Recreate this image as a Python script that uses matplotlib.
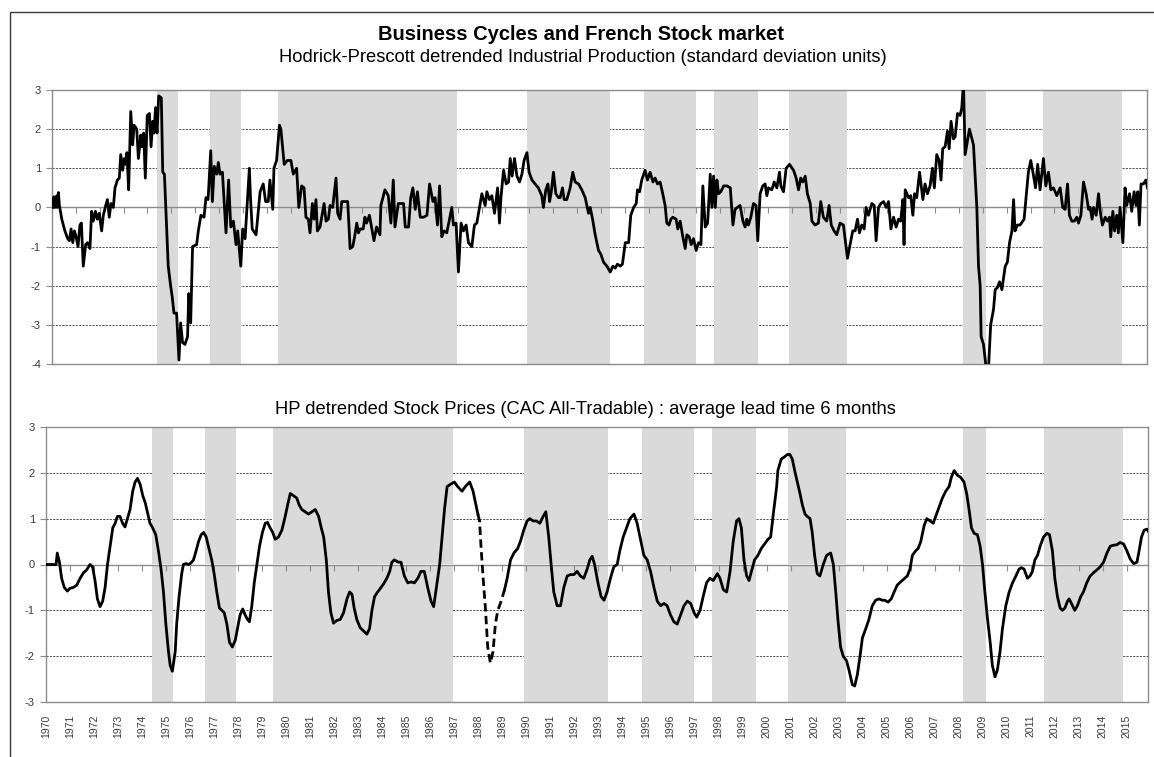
import numpy as np
import matplotlib
matplotlib.use("Agg")
import matplotlib.pyplot as plt

plt.rcParams['font.family'] = ['Liberation Sans', 'DejaVu Sans']
plt.rcParams['axes.unicode_minus'] = False

# ---------------- data ----------------
TITLE = "Business Cycles and French Stock market"
SUB_TOP = "Hodrick-Prescott detrended Industrial Production (standard deviation units)"
SUB_BOTTOM = "HP detrended Stock Prices (CAC All-Tradable) : average lead time 6 months"

YEARS = list(range(1970, 2016))

# shaded periods (decimal years)
SHADE_START = [1974.42, 1976.60, 1979.45, 1989.90, 1994.80, 1997.73, 2000.88, 2008.18, 2011.53]
SHADE_END   = [1975.28, 1977.90, 1986.95, 1993.38, 1996.97, 1999.58, 2003.30, 2009.15, 2014.84]

# Industrial production (HP detrended, sd units)
IP_T = [1970.03, 1970.08, 1970.13, 1970.20, 1970.22, 1970.27, 1970.31, 1970.41, 1970.54, 1970.66,
        1970.73, 1970.80, 1970.87, 1970.94, 1971.01, 1971.09, 1971.17, 1971.23, 1971.31, 1971.41,
        1971.49, 1971.59, 1971.66, 1971.73, 1971.82, 1971.90, 1971.98, 1972.08, 1972.15, 1972.23,
        1972.32, 1972.40, 1972.47, 1972.57, 1972.64, 1972.74, 1972.82, 1972.88, 1972.96, 1973.03,
        1973.09, 1973.14, 1973.21, 1973.30, 1973.38, 1973.44, 1973.55, 1973.62, 1973.72, 1973.77,
        1973.84, 1973.91, 1973.99, 1974.08, 1974.15, 1974.22, 1974.27, 1974.34, 1974.40, 1974.47,
        1974.58, 1974.64, 1974.71, 1974.87, 1974.97, 1975.04, 1975.11, 1975.22, 1975.32, 1975.39,
        1975.47, 1975.57, 1975.68, 1975.73, 1975.81, 1975.89, 1976.06, 1976.13, 1976.24, 1976.37,
        1976.45, 1976.54, 1976.65, 1976.72, 1976.80, 1976.90, 1976.97, 1977.04, 1977.14, 1977.29,
        1977.40, 1977.49, 1977.60, 1977.71, 1977.78, 1977.91, 1977.99, 1978.09, 1978.27, 1978.32,
        1978.39, 1978.55, 1978.72, 1978.85, 1978.95, 1979.06, 1979.13, 1979.25, 1979.30, 1979.41,
        1979.53, 1979.59, 1979.73, 1979.86, 1980.01, 1980.11, 1980.25, 1980.34, 1980.46, 1980.56,
        1980.64, 1980.74, 1980.81, 1980.91, 1980.98, 1981.06, 1981.12, 1981.23, 1981.40, 1981.48,
        1981.58, 1981.65, 1981.76, 1981.90, 1981.97, 1982.07, 1982.14, 1982.39, 1982.49, 1982.60,
        1982.68, 1982.77, 1982.84, 1982.91, 1983.04, 1983.11, 1983.18, 1983.30, 1983.49, 1983.60,
        1983.74, 1983.78, 1983.95, 1984.09, 1984.20, 1984.30, 1984.37, 1984.51,
        1984.62, 1984.73, 1984.80, 1984.94, 1985.03, 1985.12, 1985.22, 1985.31, 1985.43, 1985.57,
        1985.71, 1985.82, 1985.96, 1986.05, 1986.15, 1986.24, 1986.33, 1986.43, 1986.54, 1986.64,
        1986.75, 1986.82, 1986.93, 1987.03, 1987.14, 1987.24, 1987.35, 1987.45, 1987.59, 1987.70,
        1987.80, 1987.91, 1988.01, 1988.15, 1988.22, 1988.33, 1988.43, 1988.54, 1988.67, 1988.75,
        1988.81, 1988.92, 1989.03, 1989.13, 1989.20, 1989.28, 1989.38, 1989.48, 1989.59, 1989.69,
        1989.78, 1989.90, 1989.99, 1990.11, 1990.24, 1990.38, 1990.52, 1990.59, 1990.69, 1990.78,
        1990.85, 1990.92, 1991.01, 1991.11, 1991.22, 1991.29, 1991.39, 1991.46, 1991.57, 1991.71,
        1991.82, 1991.92, 1992.06, 1992.20, 1992.34, 1992.48, 1992.55, 1992.65, 1992.76, 1992.90,
        1993.00, 1993.11, 1993.25, 1993.39, 1993.50, 1993.60, 1993.69, 1993.81, 1993.90, 1994.02,
        1994.16, 1994.25, 1994.37, 1994.48, 1994.53, 1994.62, 1994.71, 1994.85, 1994.95, 1995.06,
        1995.18, 1995.27, 1995.37, 1995.48, 1995.59, 1995.69, 1995.76, 1995.85, 1995.93, 1996.01,
        1996.15, 1996.22, 1996.32, 1996.43, 1996.53, 1996.60, 1996.70, 1996.78, 1996.88, 1996.99,
        1997.09, 1997.19, 1997.27, 1997.37, 1997.47, 1997.58, 1997.65, 1997.72, 1997.79, 1997.86,
        1997.93, 1998.02, 1998.14, 1998.28, 1998.42, 1998.53, 1998.62, 1998.72, 1998.83, 1998.95,
        1999.04, 1999.11, 1999.18, 1999.28, 1999.39, 1999.50, 1999.57, 1999.67, 1999.78, 1999.88,
        1999.95, 2000.02, 2000.16, 2000.26, 2000.37, 2000.48,
        2000.54, 2000.65, 2000.76, 2000.90, 2001.07, 2001.18, 2001.28, 2001.37, 2001.46, 2001.56,
        2001.65, 2001.77, 2001.84, 2001.97, 2002.11, 2002.21, 2002.32, 2002.46, 2002.56, 2002.65,
        2002.77, 2002.88, 2003.02, 2003.16, 2003.33, 2003.44, 2003.55, 2003.65, 2003.75, 2003.83,
        2003.93, 2004.03, 2004.11, 2004.21, 2004.35, 2004.45, 2004.53, 2004.63, 2004.73, 2004.84,
        2004.95, 2005.05, 2005.15, 2005.26, 2005.37, 2005.47, 2005.56, 2005.65, 2005.70, 2005.75,
        2005.89, 2005.98, 2006.07, 2006.14, 2006.23, 2006.35, 2006.49, 2006.58, 2006.68, 2006.79,
        2006.89, 2006.97, 2007.07, 2007.17, 2007.25, 2007.32, 2007.42, 2007.52, 2007.59, 2007.67,
        2007.77, 2007.84, 2007.94, 2008.05, 2008.12, 2008.19, 2008.26, 2008.44, 2008.61, 2008.75,
        2008.82, 2008.89, 2008.93, 2009.03, 2009.14, 2009.24, 2009.33, 2009.45, 2009.52, 2009.61,
        2009.70, 2009.80, 2009.94, 2010.03, 2010.12, 2010.22, 2010.29, 2010.35, 2010.45, 2010.56,
        2010.73, 2010.82, 2010.91, 2011.01, 2011.10, 2011.21, 2011.30, 2011.40, 2011.54, 2011.64,
        2011.75, 2011.85, 2011.96, 2012.10, 2012.24, 2012.35, 2012.45, 2012.55, 2012.63, 2012.73,
        2012.83, 2012.94, 2013.01, 2013.11, 2013.22, 2013.33, 2013.43, 2013.50, 2013.58, 2013.64,
        2013.75, 2013.85, 2013.92, 2014.01, 2014.13, 2014.22, 2014.31, 2014.36, 2014.45, 2014.52,
        2014.61, 2014.68, 2014.75, 2014.87, 2014.96, 2015.03, 2015.15, 2015.24, 2015.34, 2015.42,
        2015.49, 2015.56, 2015.63, 2015.73, 2015.83, 2015.90]
IP_V = [0.0, 0.27, 0.0, 0.3, 0.0, 0.38, 0.05, -0.3, -0.6, -0.8,
        -0.85, -0.55, -0.9, -0.6, -0.75, -1.0, -0.45, -0.4, -1.5, -0.95,
        -0.9, -1.05, -0.1, -0.35, -0.1, -0.3, -0.15, -0.6, -0.2, 0.0,
        0.2, -0.25, 0.1, 0.0, 0.5, 0.7, 0.75, 1.35, 0.95, 1.25,
        1.1, 1.4, 0.45, 2.45, 1.6, 2.1, 2.0, 1.25, 1.85, 1.55,
        1.9, 0.75, 2.35, 2.4, 1.55, 2.2, 1.9, 2.55, 1.9, 2.85,
        2.8, 0.9, 0.85, -1.5, -2.0, -2.3, -2.7, -2.7, -3.9, -2.95,
        -3.45, -3.5, -3.3, -2.2, -2.95, -1.0, -0.95, -0.6, -0.2, -0.25,
        0.25, 0.2, 1.45, 0.15, 1.05, 0.85, 1.15, 0.85, 0.9, -0.65,
        0.7, -0.5, -0.35, -0.95, -0.6, -1.5, -0.55, -0.8, 1.0, 0.2,
        -0.55, -0.7, 0.4, 0.6, 0.15, 0.15, 0.7, -0.05, 1.0, 1.2,
        2.1, 2.0, 1.1, 1.2, 1.2, 0.85, 1.0, 0.0, 0.55, 0.5,
        -0.25, -0.3, -0.65, 0.1, -0.3, 0.2, -0.6, -0.5, 0.1, -0.35,
        -0.3, 0.05, 0.0, 0.75, -0.15, -0.3, 0.15, 0.15, -1.05, -1.0,
        -0.75, -0.4, -0.65, -0.55, -0.55, -0.25, -0.4, -0.2, -0.85, -0.5,
        -0.7, 0.05, 0.45, 0.3, -0.4, 0.7, -0.5, 0.1,
        0.1, 0.1, -0.5, -0.5, 0.25, 0.5, -0.05, 0.4, -0.25, -0.25,
        -0.2, 0.6, 0.15, 0.25, -0.45, 0.55, -0.75, -0.6, -0.65, -0.35,
        0.0, -0.45, -0.4, -1.65, -0.4, -0.6, -0.45, -0.9, -1.0, -0.45,
        -0.4, 0.0, 0.35, 0.05, 0.4, 0.2, 0.3, -0.15, 0.5, -0.4,
        0.25, 0.95, 0.6, 0.65, 1.25, 0.8, 1.25, 0.8, 0.65, 0.85,
        1.2, 1.4, 0.9, 0.7, 0.6, 0.5, 0.3, 0.0, 0.45, 0.6,
        0.15, 0.4, 0.9, 0.35, 0.25, 0.25, 0.5, 0.2, 0.2, 0.5,
        0.9, 0.65, 0.6, 0.45, 0.25, -0.15, 0.0, -0.3, -0.7, -1.1,
        -1.2, -1.4, -1.5, -1.65, -1.5, -1.55, -1.45, -1.5, -1.45, -0.9,
        -0.9, -0.2, 0.0, 0.1, 0.45, 0.4, 0.7, 0.95, 0.7, 0.9,
        0.65, 0.75, 0.6, 0.65, 0.35, 0.05, -0.4, -0.45, -0.3, -0.25,
        -0.3, -0.55, -0.35, -0.75, -1.05, -0.7, -0.75, -0.95, -0.8, -1.1,
        -0.9, -0.95, 0.55, -0.5, -0.4, 0.85, 0.0, 0.8, 0.0, 0.7,
        0.35, 0.4, 0.55, 0.55, 0.5, -0.45, -0.05, 0.0, 0.05, -0.35,
        -0.5, -0.3, -0.45, -0.25, 0.1, 0.05, -0.85, 0.35, 0.55, 0.6,
        0.3, 0.5, 0.45, 0.65, 0.5, 0.9,
        0.55, 0.4, 1.0, 1.1, 0.95, 0.75, 0.45, 0.75, 0.65, 0.8,
        0.35, 0.1, -0.35, -0.45, -0.4, 0.15, -0.25, -0.35, 0.05, -0.45,
        -0.6, -0.7, -0.4, -0.45, -1.3, -0.95, -0.6, -0.6, -0.3, -0.65,
        -0.45, -0.55, 0.0, -0.2, 0.1, 0.05, -0.85, 0.0, 0.1, 0.15,
        0.0, 0.15, -0.55, -0.25, -0.5, -0.3, -0.35, 0.2, -0.95, 0.45,
        0.25, 0.3, -0.2, 0.35, 0.25, 0.9, 0.2, 0.6, 0.35, 0.55,
        1.0, 0.5, 1.35, 1.2, 0.7, 1.5, 1.55, 1.95, 1.5, 2.2,
        1.75, 1.8, 2.4, 2.35, 2.55, 3.2, 1.35, 2.0, 1.6, 0.0,
        -1.5, -2.0, -3.3, -3.5, -4.1, -4.1, -3.0, -2.6, -2.1, -2.05,
        -1.9, -2.1, -1.5, -1.4, -0.9, -0.6, 0.2, -0.6, -0.45, -0.45,
        -0.3, 0.3, 0.9, 1.2, 0.9, 0.5, 1.1, 0.45, 1.25, 0.55,
        0.9, 0.45, 0.5, 0.3, 0.5, 0.0, -0.05, 0.6, -0.2, -0.35,
        -0.35, -0.25, -0.4, -0.2, 0.65, 0.35, -0.05, 0.0, -0.3, 0.0,
        -0.2, 0.35, -0.1, -0.45, -0.25, -0.35, -0.25, -0.75, -0.1, -0.6,
        -0.2, -0.65, 0.0, -0.9, 0.5, 0.05, 0.35, -0.1, 0.4, 0.05,
        0.4, -0.45, 0.6, 0.6, 0.7, 0.5]

# Stock prices (HP detrended, shifted 6 months)
SP_T = [1970.03, 1970.42, 1970.47, 1970.56, 1970.65, 1970.76, 1970.89, 1971.00, 1971.14, 1971.28,
        1971.42, 1971.56, 1971.69, 1971.83, 1971.94, 1972.04, 1972.14, 1972.25, 1972.36, 1972.46,
        1972.56, 1972.67, 1972.78, 1972.88, 1972.97, 1973.08, 1973.19, 1973.29, 1973.39, 1973.50,
        1973.61, 1973.71, 1973.81, 1973.92, 1974.03, 1974.13, 1974.22, 1974.33, 1974.44, 1974.57,
        1974.68, 1974.79, 1974.89, 1974.99, 1975.10, 1975.17, 1975.26, 1975.38, 1975.44, 1975.54,
        1975.65, 1975.72, 1975.83, 1975.93, 1976.03, 1976.14, 1976.25, 1976.35, 1976.46, 1976.56,
        1976.67, 1976.76, 1976.90, 1977.00, 1977.11, 1977.22, 1977.32, 1977.42, 1977.53, 1977.64,
        1977.76, 1977.88, 1977.97, 1978.08, 1978.19, 1978.29, 1978.39, 1978.47, 1978.57, 1978.67,
        1978.78, 1978.89, 1979.01, 1979.13, 1979.22, 1979.33, 1979.44, 1979.54, 1979.68, 1979.82,
        1979.96, 1980.06, 1980.17, 1980.31, 1980.44, 1980.54, 1980.65, 1980.79, 1980.93, 1981.07,
        1981.21, 1981.35, 1981.46, 1981.56, 1981.67, 1981.76, 1981.86, 1981.97, 1982.11, 1982.25,
        1982.39, 1982.53, 1982.64, 1982.74, 1982.83, 1982.94, 1983.08, 1983.22, 1983.36, 1983.47,
        1983.57, 1983.68, 1983.78, 1983.92, 1984.06, 1984.19, 1984.31, 1984.40, 1984.50, 1984.68,
        1984.78, 1984.92, 1985.06, 1985.20, 1985.34, 1985.48, 1985.61, 1985.75, 1985.89, 1986.03,
        1986.14, 1986.28, 1986.39, 1986.49, 1986.59, 1986.70, 1986.84, 1987.00, 1987.14, 1987.32,
        1987.46, 1987.64, 1987.78, 1987.88, 1987.98, 1988.05, 1988.11, 1988.20, 1988.30, 1988.39,
        1988.50, 1988.61, 1988.71, 1988.81, 1988.95, 1989.09, 1989.20, 1989.34, 1989.48, 1989.64,
        1989.75, 1989.89, 1990.03, 1990.14, 1990.28, 1990.42, 1990.56, 1990.70, 1990.81, 1990.93,
        1991.03, 1991.14, 1991.28, 1991.42, 1991.56, 1991.70, 1991.84, 1991.98, 1992.11, 1992.25,
        1992.39, 1992.53, 1992.64, 1992.74, 1992.84, 1992.98, 1993.11, 1993.23, 1993.36, 1993.50,
        1993.64, 1993.78, 1993.89, 1994.03, 1994.17, 1994.31, 1994.48, 1994.61, 1994.75, 1994.89,
        1995.03, 1995.17, 1995.31, 1995.45, 1995.59, 1995.73, 1995.86, 1996.00, 1996.14, 1996.28,
        1996.42, 1996.56, 1996.70, 1996.84, 1996.98, 1997.09, 1997.23, 1997.36, 1997.50, 1997.64,
        1997.78, 1997.95, 1998.06, 1998.20, 1998.34, 1998.48, 1998.61, 1998.75, 1998.85, 1998.95,
        1999.06, 1999.17, 1999.27, 1999.37, 1999.50, 1999.64, 1999.78, 1999.92, 2000.06, 2000.17,
        2000.28, 2000.42, 2000.47,
        2000.61, 2000.75, 2000.86, 2000.97, 2001.07, 2001.17, 2001.28, 2001.39, 2001.49, 2001.60,
        2001.69, 2001.81, 2001.90, 2002.00, 2002.11, 2002.22, 2002.36, 2002.50, 2002.67, 2002.78,
        2002.88, 2002.97, 2003.08, 2003.19, 2003.33, 2003.43, 2003.57, 2003.67, 2003.78, 2003.89,
        2003.99, 2004.13, 2004.26, 2004.40, 2004.54, 2004.68, 2004.82, 2004.92, 2005.06, 2005.19,
        2005.31, 2005.44, 2005.58, 2005.75, 2005.86, 2005.97, 2006.07, 2006.21, 2006.31, 2006.42,
        2006.56, 2006.67, 2006.81, 2006.94, 2007.04, 2007.18, 2007.32, 2007.46, 2007.60, 2007.69,
        2007.81, 2007.94, 2008.08, 2008.22, 2008.33, 2008.43, 2008.53, 2008.64, 2008.78, 2008.89,
        2008.99, 2009.08, 2009.19, 2009.31, 2009.40, 2009.51, 2009.61, 2009.72, 2009.82, 2009.96,
        2010.10, 2010.24, 2010.38, 2010.51, 2010.61, 2010.72, 2010.86, 2010.97, 2011.07, 2011.17,
        2011.28, 2011.39, 2011.53, 2011.67, 2011.78, 2011.90, 2012.00, 2012.11, 2012.22, 2012.32,
        2012.42, 2012.53, 2012.60, 2012.69, 2012.83, 2012.94, 2013.08, 2013.19, 2013.33, 2013.47,
        2013.61, 2013.75, 2013.89, 2014.03, 2014.17, 2014.31, 2014.44, 2014.58, 2014.72, 2014.86,
        2015.00, 2015.14, 2015.28, 2015.42, 2015.51, 2015.61, 2015.72, 2015.83, 2015.90]
SP_V = [0.0, 0.0, 0.25, 0.05, -0.3, -0.5, -0.58, -0.52, -0.5, -0.45,
        -0.3, -0.18, -0.12, 0.0, -0.05, -0.35, -0.75, -0.92, -0.8, -0.5,
        0.0, 0.4, 0.8, 0.9, 1.05, 1.05, 0.9, 0.82, 1.0, 1.2,
        1.6, 1.8, 1.88, 1.75, 1.5, 1.35, 1.15, 0.9, 0.8, 0.65,
        0.3, -0.1, -0.6, -1.3, -1.9, -2.2, -2.33, -1.9, -1.3, -0.7,
        -0.2, 0.0, 0.02, 0.0, 0.03, 0.1, 0.3, 0.5, 0.65, 0.7,
        0.6, 0.4, 0.1, -0.2, -0.6, -0.95, -1.0, -1.05, -1.3, -1.7,
        -1.8, -1.65, -1.4, -1.1, -0.97, -1.1, -1.2, -1.25, -0.9, -0.4,
        0.0, 0.4, 0.7, 0.9, 0.92, 0.8, 0.7, 0.55, 0.6, 0.75,
        1.05, 1.3, 1.55, 1.5, 1.45, 1.3, 1.2, 1.15, 1.1, 1.15,
        1.2, 1.05, 0.8, 0.6, 0.1, -0.6, -1.05, -1.28, -1.22, -1.2,
        -1.05, -0.75, -0.6, -0.65, -0.95, -1.2, -1.38, -1.45, -1.52, -1.4,
        -1.0, -0.7, -0.62, -0.52, -0.42, -0.3, -0.15, 0.05, 0.1, 0.05,
        0.05, -0.25, -0.4, -0.38, -0.4, -0.3, -0.15, -0.15, -0.5, -0.8,
        -0.92, -0.4, 0.0, 0.6, 1.2, 1.7, 1.75, 1.8, 1.7, 1.6,
        1.7, 1.8, 1.6, 1.35, 1.1, 0.95, 0.4, -0.3, -1.0, -1.8,
        -2.15, -1.9, -1.3, -1.0, -0.8, -0.55, -0.3, 0.1, 0.25, 0.35,
        0.5, 0.75, 0.95, 1.0, 0.95, 0.95, 0.9, 1.05, 1.15, 0.6,
        0.0, -0.6, -0.9, -0.9, -0.5, -0.25, -0.22, -0.22, -0.15, -0.25,
        -0.3, -0.1, 0.1, 0.18, 0.0, -0.4, -0.7, -0.78, -0.6, -0.3,
        -0.05, 0.0, 0.3, 0.6, 0.8, 1.0, 1.1, 0.9, 0.55, 0.2,
        0.1, -0.15, -0.5, -0.8, -0.9, -0.85, -0.9, -1.1, -1.25, -1.3,
        -1.1, -0.9, -0.8, -0.85, -1.05, -1.15, -1.0, -0.7, -0.4, -0.3,
        -0.35, -0.2, -0.3, -0.55, -0.6, -0.15, 0.5, 0.95, 1.0, 0.8,
        0.1, -0.25, -0.35, -0.15, 0.1, 0.2, 0.35, 0.45, 0.55, 0.6,
        1.1, 1.7, 2.05,
        2.3, 2.35, 2.4, 2.4, 2.3, 2.05, 1.8, 1.55, 1.3, 1.1,
        1.05, 1.0, 0.7, 0.2, -0.2, -0.25, 0.0, 0.2, 0.25, 0.0,
        -0.6, -1.2, -1.8, -2.0, -2.1, -2.3, -2.62, -2.65, -2.4, -2.0,
        -1.6, -1.4, -1.2, -0.9, -0.78, -0.75, -0.78, -0.78, -0.82, -0.75,
        -0.6, -0.45, -0.38, -0.3, -0.25, -0.1, 0.2, 0.3, 0.35, 0.5,
        0.85, 1.0, 0.95, 0.9, 1.05, 1.25, 1.45, 1.6, 1.7, 1.9,
        2.05, 1.95, 1.9, 1.8, 1.55, 1.2, 0.8, 0.68, 0.65, 0.4,
        0.0, -0.55, -1.15, -1.7, -2.2, -2.45, -2.3, -1.9, -1.4, -0.9,
        -0.6, -0.4, -0.25, -0.1, -0.07, -0.1, -0.3, -0.25, -0.15, 0.1,
        0.2, 0.4, 0.6, 0.68, 0.65, 0.3, -0.3, -0.7, -0.95, -1.0,
        -0.95, -0.8, -0.75, -0.85, -1.0, -0.9, -0.7, -0.6, -0.4, -0.25,
        -0.18, -0.12, -0.05, 0.05, 0.25, 0.4, 0.42, 0.43, 0.48, 0.45,
        0.3, 0.12, 0.02, 0.05, 0.3, 0.6, 0.75, 0.77, 0.72]

# period where the stock series is drawn dashed
DASH_FROM = 1987.98
DASH_TO = 1989.09

# ---------------- figure ----------------
W, H = 1154, 757
fig = plt.figure(figsize=(W / 100, H / 100), dpi=100)

GRAY = '#8c8c8c'
SHADE = '#dadada'
XMAX = 2015.88

# outer chart frame
fig.patches.append(plt.Rectangle((10 / W, -0.1), 1.5, 1.1 - 12 / H,
                                 transform=fig.transFigure, fill=False,
                                 edgecolor='#3a3a3a', lw=1.0, zorder=0))

fig.text(0.503, 1 - 34 / H, TITLE, ha='center', va='center',
         fontsize=14.5, fontweight='bold')
fig.text(0.505, 1 - 57 / H, SUB_TOP, ha='center', va='center', fontsize=13.2)
fig.text(0.507, 1 - 410 / H, SUB_BOTTOM, ha='center', va='center', fontsize=13.2)


def style_panel(ax, ylo, yhi):
    ax.set_xlim(1970, XMAX)
    ax.set_ylim(ylo, yhi)
    for s in ['top', 'right', 'bottom', 'left']:
        ax.spines[s].set_color(GRAY)
        ax.spines[s].set_linewidth(1.0)
    ax.set_yticks(np.arange(ylo, yhi + 1))
    ax.tick_params(axis='y', direction='out', length=4, width=0.8, color=GRAY,
                   labelsize=8, labelcolor='#3a3a3a', pad=4)
    ax.yaxis.grid(True, color='#333333', linestyle=(0, (2.5, 1.5)), lw=0.6)
    ax.set_axisbelow(True)
    for a, b in zip(SHADE_START, SHADE_END):
        ax.axvspan(a, b, color=SHADE, lw=0, zorder=0.6)
    sec = ax.secondary_xaxis(0, transform=ax.transData)
    sec.set_xticks(YEARS)
    sec.tick_params(axis='x', direction='out', length=4, width=0.8, color=GRAY,
                    labelbottom=False, labeltop=False)
    for s in sec.spines.values():
        s.set_color(GRAY)
        s.set_linewidth(1.0)
    sec.set_zorder(1)
    return sec


# top panel
ax1 = fig.add_axes([52 / W, 1 - 364 / H, (1147 - 52) / W, 274 / H])
style_panel(ax1, -4, 3)
ax1.set_xticks([])
ax1.plot(IP_T, IP_V, color='black', lw=2.0, zorder=3, solid_joinstyle='round')

# bottom panel
ax2 = fig.add_axes([46 / W, 1 - 702 / H, (1148 - 46) / W, 275 / H])
style_panel(ax2, -3, 3)
ax2.set_xticks(YEARS)
ax2.set_xticklabels([str(y) for y in YEARS], rotation=90, fontsize=7.5,
                    color='#3a3a3a')
ax2.tick_params(axis='x', length=0, pad=9)

spt = np.array(SP_T)
spv = np.array(SP_V)
i0 = int(np.argmin(np.abs(spt - DASH_FROM)))
i1 = int(np.argmin(np.abs(spt - DASH_TO)))
ax2.plot(spt[:i0 + 1], spv[:i0 + 1], color='black', lw=2.0, zorder=3,
         solid_joinstyle='round')
ax2.plot(spt[i0:i1 + 1], spv[i0:i1 + 1], color='black', lw=2.0, zorder=3,
         linestyle=(0, (3, 1.6)))
ax2.plot(spt[i1:], spv[i1:], color='black', lw=2.0, zorder=3,
         solid_joinstyle='round')

fig.savefig('out.png', dpi=100)
